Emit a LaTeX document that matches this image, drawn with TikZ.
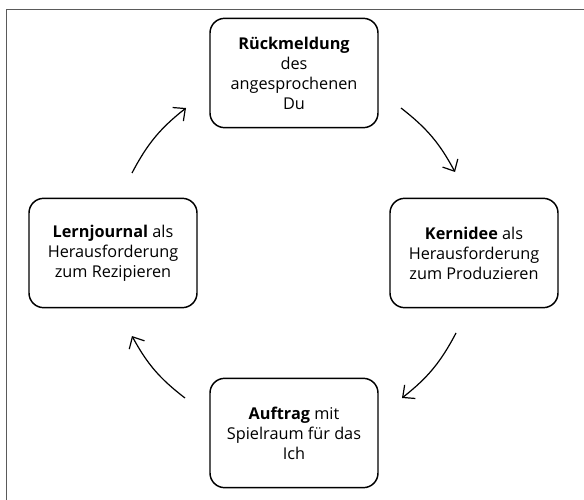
\documentclass[tikz,border=0pt]{standalone}
\usepackage{fontspec}
\setmainfont{Open Sans}
\usetikzlibrary{arrows.meta}
\begin{document}
\begin{tikzpicture}[x=0.75pt,y=0.75pt,yscale=-1,xscale=1,
  box/.style={draw, line width=1.1pt, rounded corners=11pt, minimum width=126pt, minimum height=82pt, align=center, inner sep=2pt, font=\fontsize{12.2}{15}\selectfont},
  cycarrow/.style={line width=0.9pt, -{Straight Barb[length=7pt,width=13pt,line width=0.9pt]}}]
\useasboundingbox (0,0) rectangle (584,499);

%Frame
\draw [color={rgb, 255:red, 90; green, 90; blue, 90 }, line width=0.6pt] (6.5,505) -- (6.5,9) -- (590,9);

%Rounded Rect
\node [box] (rueck) at (294,73) {\textbf{Rückmeldung}\\des\\angesprochenen\\Du};
%Rounded Rect
\node [box] (kern) at (474,253) {\textbf{Kernidee} als\\Herausforderung\\zum Produzieren};
%Rounded Rect
\node [box] (auftrag) at (294,433) {\textbf{Auftrag} mit\\Spielraum für das\\Ich};
%Rounded Rect
\node [box] (lern) at (113,253) {\textbf{Lernjournal} als\\Herausforderung\\zum Rezipieren};

%Curve Lines
\coordinate (a1) at (132,173);
\coordinate (b1) at (186,108);
\coordinate (a2) at (401,108);
\coordinate (b2) at (455,172);
\coordinate (a3) at (456,333);
\coordinate (b3) at (402,398);
\coordinate (a4) at (185,398);
\coordinate (b4) at (132,336);
\draw [cycarrow] (a1) to[bend right=12] (b1);
\draw [cycarrow] (a2) to[bend right=12] (b2);
\draw [cycarrow] (a3) to[bend right=12] (b3);
\draw [cycarrow] (a4) to[bend right=12] (b4);
\end{tikzpicture}
\end{document}
